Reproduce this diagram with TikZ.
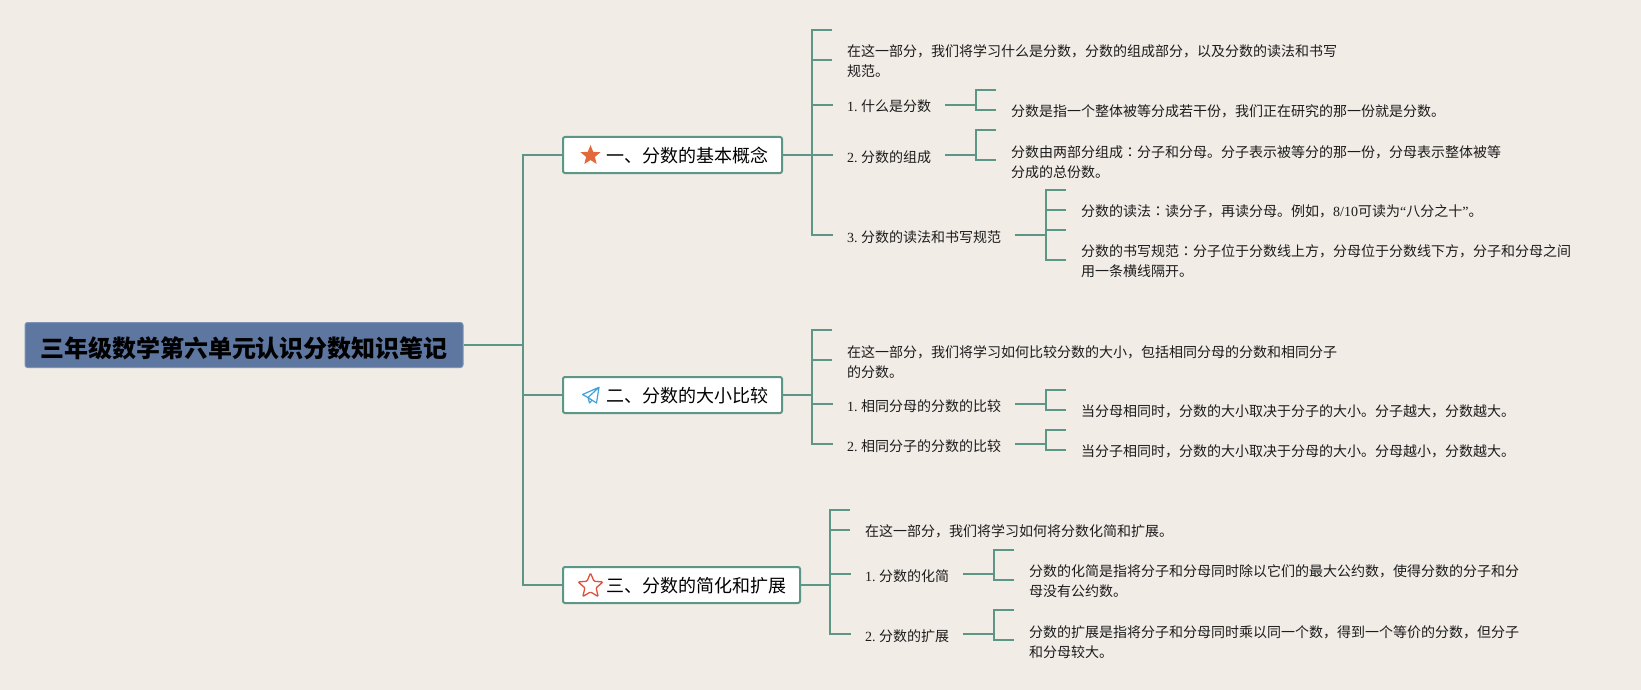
\documentclass[tikz,border=0pt]{standalone}
\usepackage{fontspec}
\usetikzlibrary{shapes.geometric}
\setmainfont{Liberation Serif}
\newfontfamily\cjk{Noto Sans CJK SC}
\newfontfamily\cjktc{Noto Sans CJK TC}
\newcommand{\lat}[1]{{\rmfamily #1}}
\newcommand{\cln}{{\cjktc ：}}
\newcommand{\num}[1]{{\rmfamily #1.}\hspace{3.5pt}}
\definecolor{bgc}{HTML}{F1ECE6}
\definecolor{linec}{HTML}{5B9686}
\definecolor{rootc}{HTML}{5E77A0}
\definecolor{txtc}{HTML}{1C1C1C}
\definecolor{staro}{HTML}{E4693A}
\definecolor{starr}{HTML}{E0503F}
\definecolor{planeb}{HTML}{3FA2DA}
\tikzset{
  x=1pt,y=-1pt,
  conn/.style={draw=linec,line width=2pt,line cap=butt,line join=miter},
  rootbox/.style={fill=rootc,draw=rootc!80!white,line width=1pt,rounded corners=2.5pt,minimum width=438,minimum height=45,inner sep=0pt,font=\cjk\bfseries\fontsize{24}{28}\selectfont,text=black,text height=24pt,text depth=0pt},
  branch/.style={fill=white,draw=linec,line width=2pt,rounded corners=2pt,minimum height=36,inner xsep=14pt,inner ysep=0pt,align=right,font=\cjk\fontsize{18}{22}\selectfont,text=black,anchor=west,text height=15pt,text depth=0pt},
  lab/.style={anchor=west,inner xsep=14pt,inner ysep=0pt,align=left,font=\cjk\fontsize{14}{20}\selectfont,text=txtc,text height=14pt,text depth=0pt},
  leaf/.style={anchor=west,inner xsep=0pt,inner ysep=0pt,align=left,font=\cjk\fontsize{14}{20}\selectfont,text=txtc},
}
\begin{document}
\begin{tikzpicture}
\useasboundingbox[fill=bgc] (0,0) rectangle (1641,690);
% root and branches
\node[rootbox] (root) at (244,345) {三年级数学第六单元认识分数知识笔记};
\node[branch,text width=191pt] (A) at (562,155) {一、分数的基本概念};
\node[branch,text width=191pt] (B) at (562,395) {二、分数的大小比较};
\node[branch,text width=209pt] (C) at (562,585) {三、分数的简化和扩展};
% icons
\node[star,star points=5,star point ratio=2.3,minimum size=21pt,inner sep=0pt,fill=staro,draw=none] (iconA) at (590.5,155.5) {};
\node[star,star points=5,star point ratio=2.2,minimum size=26pt,inner sep=0pt,draw=starr,line width=1.3pt,rounded corners=1pt] (iconC) at (590.5,586) {};
\draw[draw=planeb,line width=1.2pt,line join=round] (582.5,394.5) -- (599,387.3) -- (596.5,403) -- (588,397.5) -- cycle (599,387.3) -- (588,397.5) -- (589.5,403) -- (592,400.3);
% main trunk
\coordinate (trunk) at (523,345);
\draw[conn] (root.east) -- (root.east -| trunk);
\draw[conn] (A.west) -- (A.west -| trunk) -- (C.west -| trunk) -- (C.west);
\draw[conn] (B.west) -- (B.west -| trunk);
% Section A
\node[leaf] (A0) at (847,61) {在这一部分，我们将学习什么是分数，分数的组成部分，以及分数的读法和书写\\规范。};
\node[lab] (A1) at (833,105) {\num{1}什么是分数};
\node[lab] (A2) at (833,155) {\num{2}分数的组成};
\node[lab] (A3) at (833,235) {\num{3}分数的读法和书写规范};
\node[leaf] (A1a) at (1011,111) {分数是指一个整体被等分成若干份，我们正在研究的那一份就是分数。};
\node[leaf] (A2a) at (1011,162) {分数由两部分组成\cln 分子和分母。分子表示被等分的那一份，分母表示整体被等\\分成的总份数。};
\node[leaf] (A3a) at (1081,211.5) {分数的读法\cln 读分子，再读分母。例如，\lat{8/10}可读为\lat{“}八分之十\lat{”}。};
\node[leaf] (A3b) at (1081,261) {分数的书写规范\cln 分子位于分数线上方，分母位于分数线下方，分子和分母之间\\用一条横线隔开。};
\coordinate (ta) at (812,30); \coordinate (ta0) at (832,30);
\coordinate (ta2) at (812,60); \coordinate (ta2e) at (832,60);
\draw[conn] (ta0) -- (ta) -- (ta |- A3.west) -- (A3.west);
\draw[conn] (ta2) -- (ta2e);
\draw[conn] (ta |- A1.west) -- (A1.west);
\draw[conn] (A.east) -- (ta |- A.east);
\draw[conn] (ta |- A2.west) -- (A2.west);
% A1 bracket
\coordinate (b1) at (976,90);
\draw[conn] (996,90) -- (b1) -- (976,110) -- (996,110);
\draw[conn] (A1.east) -- (A1.east -| b1);
% A2 bracket
\coordinate (b2) at (976,130);
\draw[conn] (996,130) -- (b2) -- (976,160) -- (996,160);
\draw[conn] (A2.east) -- (A2.east -| b2);
% A3 bracket
\coordinate (b3) at (1046,190);
\draw[conn] (1066,190) -- (b3) -- (1046,260) -- (1066,260);
\draw[conn] (1046,210) -- (1066,210);
\draw[conn] (1046,230) -- (1066,230);
\draw[conn] (A3.east) -- (A3.east -| b3);
% Section B
\node[leaf] (B0) at (847,362) {在这一部分，我们将学习如何比较分数的大小，包括相同分母的分数和相同分子\\的分数。};
\node[lab] (B1) at (833,404) {\num{1}相同分母的分数的比较};
\node[lab] (B2) at (833,444) {\num{2}相同分子的分数的比较};
\node[leaf] (B1a) at (1081,411) {当分母相同时，分数的大小取决于分子的大小。分子越大，分数越大。};
\node[leaf] (B2a) at (1081,451) {当分子相同时，分数的大小取决于分母的大小。分母越小，分数越大。};
\coordinate (tb) at (812,330);
\draw[conn] (832,330) -- (tb) -- (tb |- B2.west) -- (B2.west);
\draw[conn] (812,360) -- (832,360);
\draw[conn] (tb |- B1.west) -- (B1.west);
\draw[conn] (B.east) -- (tb |- B.east);
\coordinate (b4) at (1046,390);
\draw[conn] (1066,390) -- (b4) -- (1046,410) -- (1066,410);
\draw[conn] (B1.east) -- (B1.east -| b4);
\coordinate (b5) at (1046,430);
\draw[conn] (1066,430) -- (b5) -- (1046,450) -- (1066,450);
\draw[conn] (B2.east) -- (B2.east -| b5);
% Section C
\node[leaf] (C0) at (865,531) {在这一部分，我们将学习如何将分数化简和扩展。};
\node[lab] (C1) at (851,574) {\num{1}分数的化简};
\node[lab] (C2) at (851,634) {\num{2}分数的扩展};
\node[leaf] (C1a) at (1029,581) {分数的化简是指将分子和分母同时除以它们的最大公约数，使得分数的分子和分\\母没有公约数。};
\node[leaf] (C2a) at (1029,642) {分数的扩展是指将分子和分母同时乘以同一个数，得到一个等价的分数，但分子\\和分母较大。};
\coordinate (tc) at (830,510);
\draw[conn] (850,510) -- (tc) -- (tc |- C2.west) -- (C2.west);
\draw[conn] (830,530) -- (850,530);
\draw[conn] (tc |- C1.west) -- (C1.west);
\draw[conn] (C.east) -- (tc |- C.east);
\coordinate (b6) at (994,550);
\draw[conn] (1014,550) -- (b6) -- (994,580) -- (1014,580);
\draw[conn] (C1.east) -- (C1.east -| b6);
\coordinate (b7) at (994,610);
\draw[conn] (1014,610) -- (b7) -- (994,640) -- (1014,640);
\draw[conn] (C2.east) -- (C2.east -| b7);
\end{tikzpicture}
\end{document}
